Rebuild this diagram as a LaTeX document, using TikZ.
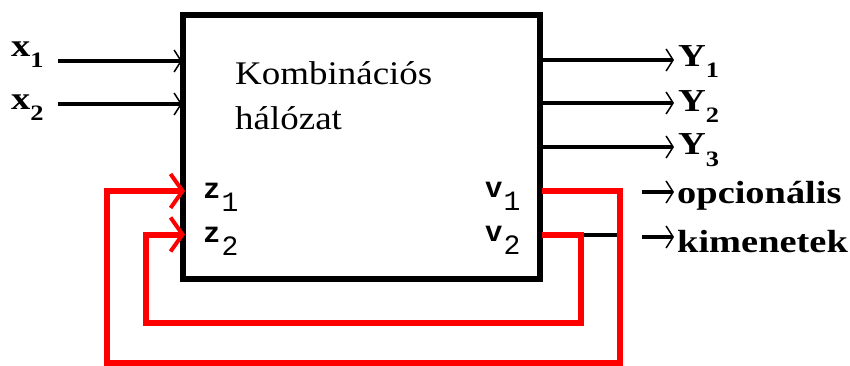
\documentclass[tikz,border=0pt]{standalone}
\usepackage{graphicx}
\usepackage{fontspec}
\setmainfont{Liberation Serif}
\newfontfamily\pixfont{Liberation Mono}
\usetikzlibrary{arrows.meta}
\definecolor{loopred}{RGB}{255,0,0}

% bold serif label with a lowered index
\newcommand{\sublab}[2]{\scalebox{1.2}[1]{\fontsize{32}{32}\selectfont\bfseries #1\raisebox{-11pt}{\fontsize{22}{22}\selectfont #2}}}
% monospaced port label
\newcommand{\portlab}[2]{{\fontsize{29}{29}\selectfont\pixfont\bfseries #1}\hspace{1pt}\raisebox{-13pt}{\fontsize{28}{28}\selectfont\pixfont #2}}

\tikzset{
  lab/.style={inner sep=0pt, anchor=base west},
  sig/.style={line width=3.5pt, -{Straight Barb[length=7pt,width=22pt,line width=1.5pt]}},
  wire/.style={line width=3.5pt},
  fb/.style={draw=loopred, line width=6pt, line join=miter},
  fbarrow/.style={fb, -{Straight Barb[length=12pt,width=34pt,line width=4pt]}},
}

\begin{document}
\begin{tikzpicture}[x=1pt,y=-1pt]
\useasboundingbox (0,0) rectangle (850,366);

% combinational block
\node[draw, line width=6pt, minimum width=357pt, minimum height=264pt, inner sep=0pt] (box) at (361.5,147) {};
\node[lab] (t1) at (235,85) {\scalebox{1.12}[1]{\fontsize{33}{33}\selectfont Kombinációs}};
\node[lab] (t2) at (235,130) {\scalebox{1.12}[1]{\fontsize{33}{33}\selectfont hálózat}};

% inputs
\node[lab] (x1) at (11,57) {\sublab{x}{1}};
\node[lab] (x2) at (11,110) {\sublab{x}{2}};
\coordinate (x1s) at (58,61);
\coordinate (x2s) at (58,104);
\coordinate (x1e) at (182,61);
\coordinate (x2e) at (182,104);
\draw[sig] (x1s) -- (x1e);
\draw[sig] (x2s) -- (x2e);

% outputs
\node[lab] (y1) at (678,67) {\sublab{Y}{1}};
\node[lab] (y2) at (678,112) {\sublab{Y}{2}};
\node[lab] (y3) at (678,155) {\sublab{Y}{3}};
\coordinate (y1s) at (543,60);
\coordinate (y2s) at (543,103);
\coordinate (y3s) at (543,147);
\coordinate (y1e) at (674,60);
\coordinate (y2e) at (674,103);
\coordinate (y3e) at (674,147);
\draw[sig] (y1s) -- (y1e);
\draw[sig] (y2s) -- (y2e);
\draw[sig] (y3s) -- (y3e);

% optional outputs
\node[lab] (opt) at (677,203) {\scalebox{1.2}[1]{\fontsize{32}{32}\selectfont\bfseries opcionális}};
\node[lab] (kim) at (677,252) {\scalebox{1.2}[1]{\fontsize{32}{32}\selectfont\bfseries kimenetek}};
\coordinate (o1s) at (642,192);
\coordinate (o1e) at (674,192);
\coordinate (o2s) at (642,237);
\coordinate (o2e) at (674,237);
\draw[sig] (o1s) -- (o1e);
\draw[sig] (o2s) -- (o2e);

% state ports
\node[lab] (z1) at (203,198) {\portlab{z}{1}};
\node[lab] (z2) at (203,242) {\portlab{z}{2}};
\node[lab] (v1) at (485,197) {\portlab{v}{1}};
\node[lab] (v2) at (485,241) {\portlab{v}{2}};

% port points on the block edges
\coordinate (v1p) at (542,191);
\coordinate (v2p) at (542,235);
\coordinate (z1p) at (185,191);
\coordinate (z2p) at (185,234.5);

% v2 also continues as a plain wire
\coordinate (v2a) at (581,235);
\coordinate (v2b) at (619,235);
\draw[wire] (v2a) -- (v2b);

% feedback loops
\coordinate (c1) at (620,191);
\coordinate (c2) at (620,363);
\coordinate (c3) at (107,363);
\coordinate (c4) at (107,191);
\draw[fbarrow] (v1p) -- (c1) -- (c2) -- (c3) -- (c4) -- (z1p);

\coordinate (d1) at (581,235);
\coordinate (d2) at (581,323);
\coordinate (d3) at (145.5,323);
\coordinate (d4) at (145.5,234.5);
\draw[fbarrow] (v2p) -- (d1) -- (d2) -- (d3) -- (d4) -- (z2p);
\end{tikzpicture}
\end{document}
